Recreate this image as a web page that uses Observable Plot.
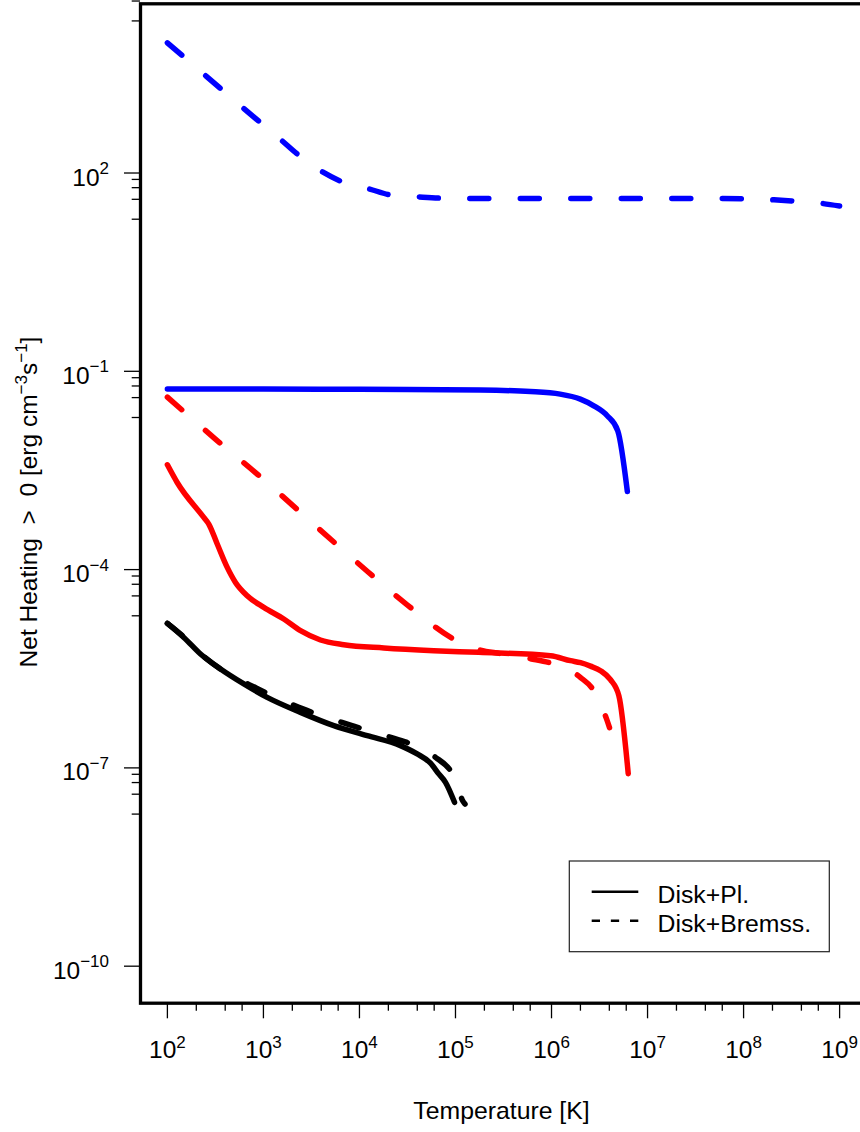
<!DOCTYPE html>
<html>
<head>
<meta charset="utf-8">
<script src="https://cdn.jsdelivr.net/npm/d3@7"></script>
<script src="https://cdn.jsdelivr.net/npm/@observablehq/plot@0.6"></script>
<style>
  html, body { margin: 0; padding: 0; background: white; overflow: hidden; }
</style>
</head>
<body>
<script>
// ---- Data (log10 values) ----
// High-luminosity case (blue)
const blueSolidLogT = [2.0, 3.0, 4.0, 5.26, 5.78, 6.09, 6.30, 6.44, 6.58, 6.69, 6.79];
const blueSolidLogH = [-1.269, -1.269, -1.272, -1.284, -1.306, -1.345, -1.421, -1.522, -1.673, -1.900, -2.82];
const blueDashLogT = [2.0, 2.4, 2.8, 3.2, 3.35, 3.6, 3.85, 4.1, 4.32, 4.6, 4.85, 5.5, 6.5, 7.5, 8.05, 8.3, 8.56, 8.83, 9.0];
const blueDashLogH = [3.97, 3.47, 2.97, 2.48, 2.29, 2.03, 1.85, 1.76, 1.67, 1.64, 1.62, 1.613, 1.613, 1.613, 1.612, 1.595, 1.572, 1.537, 1.50];
// Middle case (red)
const redSolidLogT = [2.0, 2.102, 2.379, 2.431, 2.519, 2.623, 2.709, 2.831, 3.004, 3.212, 3.386, 3.594, 3.837, 4.254, 4.774, 5.243, 5.990, 6.198, 6.302, 6.406, 6.510, 6.614, 6.701, 6.799];
const redSolidLogH = [-2.414, -2.682, -3.211, -3.311, -3.613, -3.967, -4.194, -4.395, -4.572, -4.747, -4.924, -5.065, -5.136, -5.186, -5.227, -5.252, -5.302, -5.378, -5.408, -5.461, -5.529, -5.665, -5.907, -7.087];
const redDashLogT = [2.0, 2.5, 3.0, 3.5, 4.0, 4.5, 5.0, 5.24, 5.47, 5.78, 6.01, 6.30, 6.44, 6.573, 6.604];
const redDashLogH = [-1.39, -2.025, -2.635, -3.283, -3.923, -4.537, -5.066, -5.211, -5.272, -5.348, -5.423, -5.630, -5.831, -6.259, -6.391];
// Low case (black)
const blackSolidLogT = [2.0, 2.171, 2.345, 2.553, 2.796, 3.039, 3.386, 3.733, 4.081, 4.427, 4.601, 4.740, 4.826, 4.896, 4.99];
const blackSolidLogH = [-4.814, -5.026, -5.277, -5.504, -5.730, -5.933, -6.160, -6.361, -6.512, -6.663, -6.789, -6.928, -7.091, -7.218, -7.521];
const blackDashLogT = [2.0, 2.171, 2.345, 2.553, 2.929, 3.412, 3.907, 4.410, 4.636, 4.792, 4.948, 5.011, 5.070, 5.099];
const blackDashLogH = [-4.814, -5.02, -5.27, -5.504, -5.794, -6.108, -6.353, -6.577, -6.694, -6.840, -7.041, -7.193, -7.484, -7.548];

// Axis ticks
const xMajorExp = [2, 3, 4, 5, 6, 7, 8, 9];
const xMinorMult = [2, 4, 6];
const yMajorExp = [-10, -7, -4, -1, 2];
const yMinorBaseExp = [-7, -4, -1, 2, 5];
const yMinorMult = [2, 4, 6, 8];

const legendLabels = ["Disk+Pl.", "Disk+Bremss."];
const xTitle = "Temperature [K]";

// ---- Build tables ----
const series = (lt, lh) => lt.map((t, i) => ({T: 10 ** t, H: 10 ** lh[i]}));
const blueSolid = series(blueSolidLogT, blueSolidLogH);
const blueDash = series(blueDashLogT, blueDashLogH);
const redSolid = series(redSolidLogT, redSolidLogH);
const redDash = series(redDashLogT, redDashLogH);
const blackSolid = series(blackSolidLogT, blackSolidLogH);
const blackDash = series(blackDashLogT, blackDashLogH);

const xMajor = xMajorExp.map(e => 10 ** e);
const xMinor = [];
for (let k = 2; k <= 8; k++) for (const m of xMinorMult) xMinor.push(m * 10 ** k);
const yMajor = yMajorExp.map(e => 10 ** e);
const yMinor = [];
for (const k of yMinorBaseExp) for (const m of yMinorMult) yMinor.push(m * 10 ** (k - 1));

const expStr = d => String(Math.round(Math.log10(d))).replace("-", "\u2212");
const FONT = "'Liberation Sans', Arial, Helvetica, sans-serif";
const lw = 5.5;
const dash = "19,31.5";
const lineOpts = (stroke, dashed) => ({
  x: "T", y: "H", stroke, strokeWidth: lw, curve: "monotone-x",
  strokeLinecap: "round", strokeLinejoin: "round",
  ...(dashed ? {strokeDasharray: dash} : {})
});

const plot = Plot.plot({
  width: 860,
  height: 1132,
  marginLeft: 140,
  marginRight: -6,
  marginTop: 3.3,
  marginBottom: 129.3,
  style: {fontFamily: FONT, fontSize: "24.5px", background: "white", color: "black"},
  x: {type: "log", domain: [10 ** 1.72, 10 ** 9.28]},
  y: {type: "log", domain: [10 ** -10.56, 10 ** 4.56]},
  marks: [
    Plot.axisX({ticks: xMinor, tickSize: 8, tickFormat: () => "", strokeWidth: 1.3, label: null}),
    Plot.axisX({ticks: xMajor, tickSize: 15.6, tickPadding: 6, tickFormat: d => "10|" + expStr(d), strokeWidth: 1.3, fontSize: 24.5, label: null}),
    Plot.axisY({ticks: yMinor, tickSize: 8.3, tickFormat: () => "", strokeWidth: 1.3, label: null}),
    Plot.axisY({ticks: yMajor, tickSize: 16, tickPadding: 15, tickFormat: d => "10|" + expStr(d), strokeWidth: 1.3, fontSize: 24.5, label: null}),
    Plot.line(blueSolid, lineOpts("#0000ff", false)),
    Plot.line(redSolid, lineOpts("#ff0000", false)),
    Plot.line(blackSolid, lineOpts("#000000", false)),
    Plot.line(blueDash, lineOpts("#0000ff", true)),
    Plot.line(redDash, lineOpts("#ff0000", true)),
    Plot.line(blackDash, lineOpts("#000000", true)),
    Plot.frame({stroke: "black", strokeWidth: 3.3})
  ]
});

document.body.appendChild(plot);
const svg = plot.tagName.toLowerCase() === "svg" ? plot : plot.querySelector("svg");
const NS = "http://www.w3.org/2000/svg";
const ys = plot.scale("y");

function supify(t, base, sup, dy) {
  t.textContent = "";
  const a = document.createElementNS(NS, "tspan");
  a.textContent = base;
  t.appendChild(a);
  const b = document.createElementNS(NS, "tspan");
  b.textContent = sup;
  b.setAttribute("font-size", "17");
  b.setAttribute("dy", String(dy));
  t.appendChild(b);
}

svg.querySelectorAll('g[aria-label="x-axis tick label"] text').forEach(t => {
  const s = t.textContent;
  if (!s.includes("|")) return;
  const [b, p] = s.split("|");
  supify(t, b, p, -10);
  const m = t.getCTM();
  t.setAttribute("y", String(1058.3 - m.f));
});
svg.querySelectorAll('g[aria-label="y-axis tick label"] text').forEach(t => {
  const s = t.textContent;
  if (!s.includes("|")) return;
  const [b, p] = s.split("|");
  const e = Number(p.replace("\u2212", "-"));
  supify(t, b, p, -11.5);
  t.setAttribute("text-anchor", "end");
  const m = t.getCTM();
  t.setAttribute("x", String(109 - m.e));
  t.setAttribute("y", String(ys.apply(10 ** e) + 13 - m.f));
});

// ---- Axis titles ----
function addText(parent, attrs) {
  const t = document.createElementNS(NS, "text");
  for (const k in attrs) t.setAttribute(k, attrs[k]);
  parent.appendChild(t);
  return t;
}
function addSpan(t, txt, attrs = {}) {
  const s = document.createElementNS(NS, "tspan");
  for (const k in attrs) s.setAttribute(k, attrs[k]);
  s.textContent = txt;
  t.appendChild(s);
}
const xt = addText(svg, {x: 501.5, y: 1119, "text-anchor": "middle", "font-size": 24.8, "font-family": FONT, fill: "black"});
xt.textContent = xTitle;

const yt = addText(svg, {transform: "translate(36.7,502) rotate(-90)", "text-anchor": "middle", "font-size": 24.5, "font-family": FONT, fill: "black"});
addSpan(yt, "Net Heating\u00a0\u00a0>\u00a0\u00a00 [erg cm");
addSpan(yt, "\u22123", {"font-size": 17, dy: -10});
addSpan(yt, "s", {dy: 10});
addSpan(yt, "\u22121", {"font-size": 17, dy: -10});
addSpan(yt, "]", {dy: 10});

// ---- Legend ----
const lg = document.createElementNS(NS, "g");
lg.setAttribute("text-anchor", "start");
svg.appendChild(lg);
const rect = document.createElementNS(NS, "rect");
Object.entries({x: 569.3, y: 861, width: 260, height: 90.7, fill: "white", stroke: "#222", "stroke-width": 1.2}).forEach(([k, v]) => rect.setAttribute(k, v));
lg.appendChild(rect);
const legendDash = [null, "8.3,10.85"];
const legendY = [891.7, 920.7];
legendLabels.forEach((lab, i) => {
  const ln = document.createElementNS(NS, "line");
  Object.entries({x1: 591.7, x2: 638.3, y1: legendY[i], y2: legendY[i], stroke: "black", "stroke-width": 2.5}).forEach(([k, v]) => ln.setAttribute(k, v));
  if (legendDash[i]) ln.setAttribute("stroke-dasharray", legendDash[i]);
  lg.appendChild(ln);
  const tx = addText(lg, {x: 657.5, y: legendY[i] + 11.6, "text-anchor": "start", "font-size": 24.8, "font-family": FONT, fill: "black"});
  tx.textContent = lab;
});
</script>
</body>
</html>
